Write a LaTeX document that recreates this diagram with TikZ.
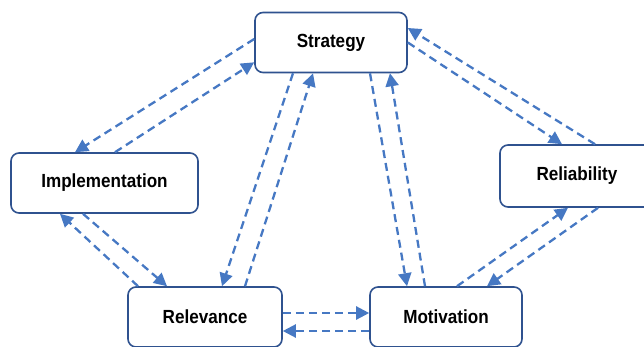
\documentclass[tikz,border=0pt]{standalone}
\usepackage{fontspec}
\setmainfont{Liberation Sans}[FakeStretch=0.9]
\usetikzlibrary{arrows.meta}
\definecolor{boxline}{RGB}{47,82,143}
\definecolor{linkblue}{RGB}{70,120,195}

\begin{document}
\begin{tikzpicture}[x=1pt,y=-1pt,
			box/.style={draw=boxline, line width=1.6pt, rounded corners=8pt, fill=white,
				minimum width=152pt, minimum height=60pt, inner sep=0pt,
				font=\fontsize{19}{22}\selectfont\bfseries},
			link/.style={draw=linkblue, line width=2.3pt, dash pattern=on 8pt off 5pt,
				-{Triangle[length=13pt,width=13pt]}}]
			\useasboundingbox (0,0) rectangle (644,346);
			\node [box] (strat) at (331,42.5) {Strategy};
			\node [box, minimum width=187pt] (impl) at (104.5,183) {Implementation};
			\node [box, minimum width=154pt, minimum height=62pt] (rel) at (577,176) {Reliability};
			\node [box, minimum width=154pt] (relev) at (205,317) {Relevance};
			\node [box] (motiv) at (446,317) {Motivation};
			% Strategy <-> Implementation
			\draw [link] ([yshift=3.5pt]strat.west) -- ([xshift=-29.5pt]impl.north);
			\draw [link] ([xshift=10.5pt]impl.north) -- ([yshift=11pt]strat.south west);
			% Strategy <-> Reliability
			\draw [link] ([xshift=18pt]rel.north) -- ([yshift=14.5pt]strat.east);
			\draw [link] (strat.east) -- ([xshift=-15pt]rel.north);
			% Strategy <-> Relevance
			\draw [link] ([xshift=-38pt]strat.south) -- ([xshift=17pt]relev.north);
			\draw [link] ([xshift=40pt]relev.north) -- ([xshift=-18pt]strat.south);
			% Strategy <-> Motivation
			\draw [link] ([xshift=39pt]strat.south) -- ([xshift=-39pt]motiv.north);
			\draw [link] ([xshift=-21pt]motiv.north) -- ([xshift=59pt]strat.south);
			% Implementation <-> Relevance
			\draw [link] ([xshift=-67pt]relev.north) -- ([xshift=-44.5pt]impl.south);
			\draw [link] ([xshift=-21.5pt]impl.south) -- ([xshift=-38pt]relev.north);
			% Reliability <-> Motivation
			\draw [link] ([xshift=11pt]motiv.north) -- ([xshift=-9pt]rel.south);
			\draw [link] ([xshift=21pt]rel.south) -- ([xshift=41pt]motiv.north);
			% Relevance <-> Motivation
			\draw [link] ([yshift=4pt]relev.east) -- ([yshift=4pt]motiv.west);
			\draw [link] ([yshift=-14pt]motiv.west) -- ([yshift=-14pt]relev.east);
		\end{tikzpicture}
\end{document}
